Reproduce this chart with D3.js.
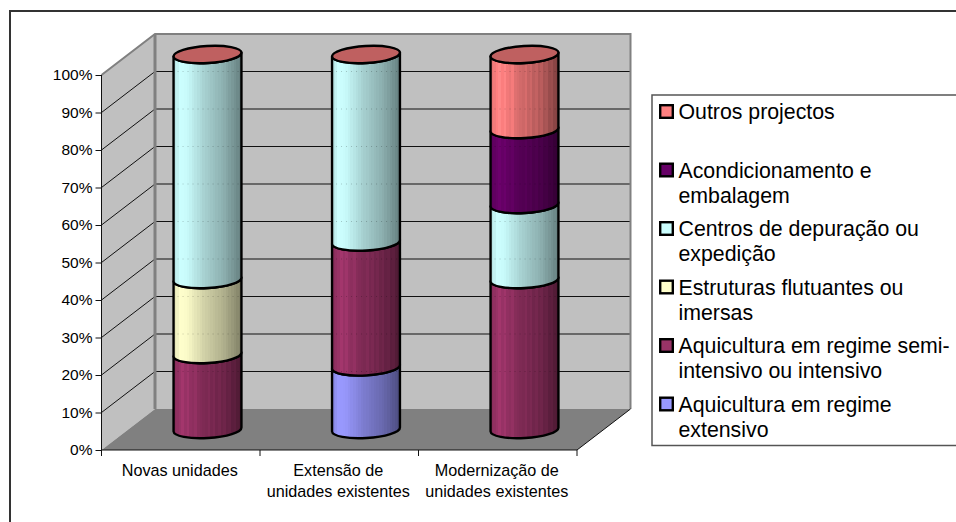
<!DOCTYPE html>
<meta charset="utf-8">
<head>
  <title>Projectos por tipo de unidade</title>
  <style>
    html, body { margin: 0; padding: 0; background: #fff; overflow: hidden; }
    text { font-family: "Liberation Sans", Arial, sans-serif; fill: #000; }
  </style>
</head>
<body>
<script src="https://d3js.org/d3.v7.min.js"></script>
<script>
var WIDTH = 956,
    HEIGHT = 522,
    DEPTH_X = 53.5,
    DEPTH_Y = 41,
    CYL_RX = 34,
    CYL_RY = 8.5,
    CYL_TILT = 3.4;

var categories = [
  ["Novas unidades"],
  ["Extensão de", "unidades existentes"],
  ["Modernização de", "unidades existentes"]
];
var categoryKeys = ["novas", "extensao", "modernizacao"];

// bottom to top, same order as the stack
var seriesKeys = ["extensivo", "semi", "flutuantes", "centros", "acond", "outros"];
var extensivo  = [0, 16.7, 0];
var semi       = [20, 33.3, 40];
var flutuantes = [20, 0, 0];
var centros    = [60, 50, 20];
var acond      = [0, 0, 20];
var outros     = [0, 0, 20];

var seriesColors = ["#9999ff", "#993366", "#ffffcc", "#ccffff", "#660066", "#ff8080"];
var yTicks = [0, 10, 20, 30, 40, 50, 60, 70, 80, 90, 100];

var legendLines = [
  ["Outros projectos"],
  ["Acondicionamento e", "embalagem"],
  ["Centros de depuração ou", "expedição"],
  ["Estruturas flutuantes ou", "imersas"],
  ["Aquicultura em regime semi-", "intensivo ou intensivo"],
  ["Aquicultura em regime", "extensivo"]
];
var legendColors = ["#ff8080", "#660066", "#ccffff", "#ffffcc", "#993366", "#9999ff"];

var rows = categoryKeys.map(function(k, i) {
  return {
    key: k,
    extensivo: extensivo[i],
    semi: semi[i],
    flutuantes: flutuantes[i],
    centros: centros[i],
    acond: acond[i],
    outros: outros[i]
  };
});

var svg = d3.select("body").append("svg")
    .attr("width", WIDTH)
    .attr("height", HEIGHT)
    .style("display", "block");

var x = d3.scaleBand().domain(categoryKeys).range([101.5, 577]);
var y = d3.scaleLinear().domain([0, 100]).range([450, 75]);

// outer chart frame runs off the page on the right and bottom
svg.append("rect")
    .attr("x", 10).attr("y", 11)
    .attr("width", 1100).attr("height", 700)
    .attr("fill", "#fff")
    .attr("stroke", "#333")
    .attr("stroke-width", 2);

// walls and floor
var x0 = x.range()[0], x1 = x.range()[1];
var bx0 = x0 + DEPTH_X, bx1 = x1 + DEPTH_X;

function poly(pts) {
  return "M" + pts.map(function(p) { return p.join(","); }).join("L") + "Z";
}

svg.append("path")
    .attr("d", poly([[bx0, y(100) - DEPTH_Y], [bx1, y(100) - DEPTH_Y], [bx1, y(0) - DEPTH_Y], [bx0, y(0) - DEPTH_Y]]))
    .attr("fill", "#c0c0c0");
svg.append("path")
    .attr("d", poly([[x0, y(100)], [bx0, y(100) - DEPTH_Y], [bx0, y(0) - DEPTH_Y], [x0, y(0)]]))
    .attr("fill", "#c0c0c0");
svg.append("path")
    .attr("d", poly([[x0, y(0)], [bx0, y(0) - DEPTH_Y], [bx1, y(0) - DEPTH_Y], [x1, y(0)]]))
    .attr("fill", "#808080");

// gridlines, along the side wall and then the back wall
svg.append("g").selectAll("path")
    .data(yTicks.slice(1, -1))
  .enter().append("path")
    .attr("d", function(d) {
      return "M" + x0 + "," + y(d) + "L" + bx0 + "," + (y(d) - DEPTH_Y) + "L" + bx1 + "," + (y(d) - DEPTH_Y);
    })
    .attr("fill", "none")
    .attr("stroke", "#111")
    .attr("stroke-width", 1);

// grey edges of the walls
svg.append("path")
    .attr("d", "M" + x0 + "," + y(100) + "L" + bx0 + "," + (y(100) - DEPTH_Y) +
               "L" + bx1 + "," + (y(100) - DEPTH_Y) + "L" + bx1 + "," + (y(0) - DEPTH_Y))
    .attr("fill", "none")
    .attr("stroke", "#808080")
    .attr("stroke-width", 2);
svg.append("line")
    .attr("x1", bx0).attr("x2", bx0)
    .attr("y1", y(100) - DEPTH_Y).attr("y2", y(0) - DEPTH_Y)
    .attr("stroke", "#808080")
    .attr("stroke-width", 3);

// right hand edge of the floor
svg.append("line")
    .attr("x1", x1).attr("y1", y(0))
    .attr("x2", bx1).attr("y2", y(0) - DEPTH_Y)
    .attr("stroke", "#111")
    .attr("stroke-width", 1);

// cylinder shading, stepped like the original bands
var defs = svg.append("defs");
var shade = d3.scaleLinear()
    .domain([0, 0.1, 0.2, 0.45, 0.75, 1])
    .range([0.88, 1, 0.98, 0.82, 0.68, 0.5]);
var BANDS = 26;
var streaks = [3, 5, 8, 13, 15, 17, 19, 21, 23];

function bandColor(color, i, withStreaks) {
  var k = shade((i + 0.5) / BANDS);
  if (withStreaks && streaks.indexOf(i) >= 0) k *= 1.07;
  var c = d3.rgb(color);
  return d3.rgb(Math.min(255, c.r * k), Math.min(255, c.g * k), Math.min(255, c.b * k)).formatHex();
}

seriesColors.forEach(function(color, s) {
  var grad = defs.append("linearGradient")
      .attr("id", "cyl-" + s)
      .attr("x1", 0).attr("x2", 1).attr("y1", 0).attr("y2", 0);
  var withStreaks = seriesKeys[s] == "semi" || seriesKeys[s] == "acond" || seriesKeys[s] == "outros";
  d3.range(BANDS).forEach(function(i) {
    var col = bandColor(color, i, withStreaks);
    grad.append("stop").attr("offset", i / BANDS).attr("stop-color", col);
    grad.append("stop").attr("offset", (i + 1) / BANDS).attr("stop-color", col);
  });
});

var stack = d3.stack().keys(seriesKeys);
var stacked = stack(rows);

var tilt = CYL_TILT * Math.PI / 180;
var ax = CYL_RX * Math.cos(tilt), ay = CYL_RX * Math.sin(tilt);

function arc(sweep, tx, ty) {
  return "A" + CYL_RX + "," + CYL_RY + " " + (-CYL_TILT) + " 0 " + sweep + " " + tx + "," + ty;
}

function segmentPath(cx, v0, v1) {
  var top = y(v1) - DEPTH_Y / 2,
      bot = y(v0) - DEPTH_Y / 2;
  return "M" + (cx - ax) + "," + (top + ay) +
         "L" + (cx - ax) + "," + (bot + ay) +
         arc(0, cx + ax, bot - ay) +
         "L" + (cx + ax) + "," + (top - ay) +
         arc(1, cx - ax, top + ay) + "Z";
}

var cyl = svg.append("g");

categoryKeys.forEach(function(k, c) {
  var cx = x(k) + x.bandwidth() / 2 + DEPTH_X / 2;

  stacked.forEach(function(layer, s) {
    var v0 = layer[c][0], v1 = layer[c][1];
    if (v1 - v0 <= 0) return;
    cyl.append("path")
        .attr("d", segmentPath(cx, v0, v1))
        .attr("fill", "url(#cyl-" + s + ")")
        .attr("stroke", "#000")
        .attr("stroke-width", 2.4)
        .attr("stroke-linejoin", "round");
  });

  // faint dots where the gridlines show through
  cyl.selectAll(null)
      .data(yTicks.slice(1, -1))
    .enter().append("line")
      .attr("x1", cx - ax + 4).attr("x2", cx + ax - 2)
      .attr("y1", function(d) { return y(d) - DEPTH_Y; })
      .attr("y2", function(d) { return y(d) - DEPTH_Y; })
      .attr("stroke", "#000")
      .attr("stroke-opacity", 0.22)
      .attr("stroke-dasharray", "1,4");

  // lid, always the colour of the top series in shade
  var lid = d3.rgb(seriesColors[seriesColors.length - 1]);
  cyl.append("ellipse")
      .attr("cx", cx)
      .attr("cy", y(100) - DEPTH_Y / 2)
      .attr("rx", CYL_RX)
      .attr("ry", CYL_RY)
      .attr("transform", "rotate(" + (-CYL_TILT) + " " + cx + " " + (y(100) - DEPTH_Y / 2) + ")")
      .attr("fill", d3.rgb(lid.r * 0.75, lid.g * 0.75, lid.b * 0.75).formatHex())
      .attr("stroke", "#000")
      .attr("stroke-width", 2.4);
});

// axes
var yAxis = d3.axisLeft(y)
    .tickValues(yTicks)
    .tickSize(6)
    .tickPadding(3)
    .tickFormat(function(d) { return d + "%"; });

var gy = svg.append("g")
    .attr("transform", "translate(" + x0 + ",0)")
    .call(yAxis);
gy.select(".domain").attr("stroke", "#111").attr("d", "M0," + y(100) + "V" + y(0));
gy.selectAll(".tick line").attr("stroke", "#111");
gy.selectAll("text")
    .style("font-family", '"Liberation Sans", Arial, sans-serif')
    .style("font-size", "15.5px")
    .attr("fill", "#000");

svg.append("line")
    .attr("x1", x0).attr("x2", x1)
    .attr("y1", y(0)).attr("y2", y(0))
    .attr("stroke", "#111");

svg.append("g").selectAll("line")
    .data(categoryKeys.map(function(k) { return x(k); }).concat([x1]))
  .enter().append("line")
    .attr("x1", function(d) { return d; })
    .attr("x2", function(d) { return d; })
    .attr("y1", y(0))
    .attr("y2", y(0) + 6)
    .attr("stroke", "#111");

var catLabels = svg.append("g").selectAll("text")
    .data(categoryKeys)
  .enter().append("text")
    .attr("text-anchor", "middle")
    .style("font-size", "16.2px");

catLabels.each(function(k, i) {
  var t = d3.select(this);
  categories[i].forEach(function(line, j) {
    t.append("tspan")
        .attr("x", x(k) + x.bandwidth() / 2 - 1)
        .attr("y", 476 + j * 21)
        .text(line);
  });
});

// legend
svg.append("rect")
    .attr("x", 652).attr("y", 95)
    .attr("width", 400).attr("height", 350.5)
    .attr("fill", "#fff")
    .attr("stroke", "#555")
    .attr("stroke-width", 1.5);

var legendY = d3.scalePoint()
    .domain(d3.range(legendLines.length))
    .range([119, 411.5]);

var legend = svg.append("g").selectAll("g")
    .data(legendLines)
  .enter().append("g")
    .attr("transform", function(d, i) { return "translate(0," + legendY(i) + ")"; });

legend.append("rect")
    .attr("x", 660.2).attr("y", -13.8)
    .attr("width", 12.6).attr("height", 12.6)
    .attr("fill", function(d, i) { return legendColors[i]; })
    .attr("stroke", "#000")
    .attr("stroke-width", 2.4);

legend.append("text")
    .style("font-size", "21.3px")
    .each(function(lines) {
      var t = d3.select(this);
      lines.forEach(function(line, j) {
        t.append("tspan")
            .attr("x", 678.5)
            .attr("y", j * 25)
            .text(line);
      });
    });
</script>
</body>
